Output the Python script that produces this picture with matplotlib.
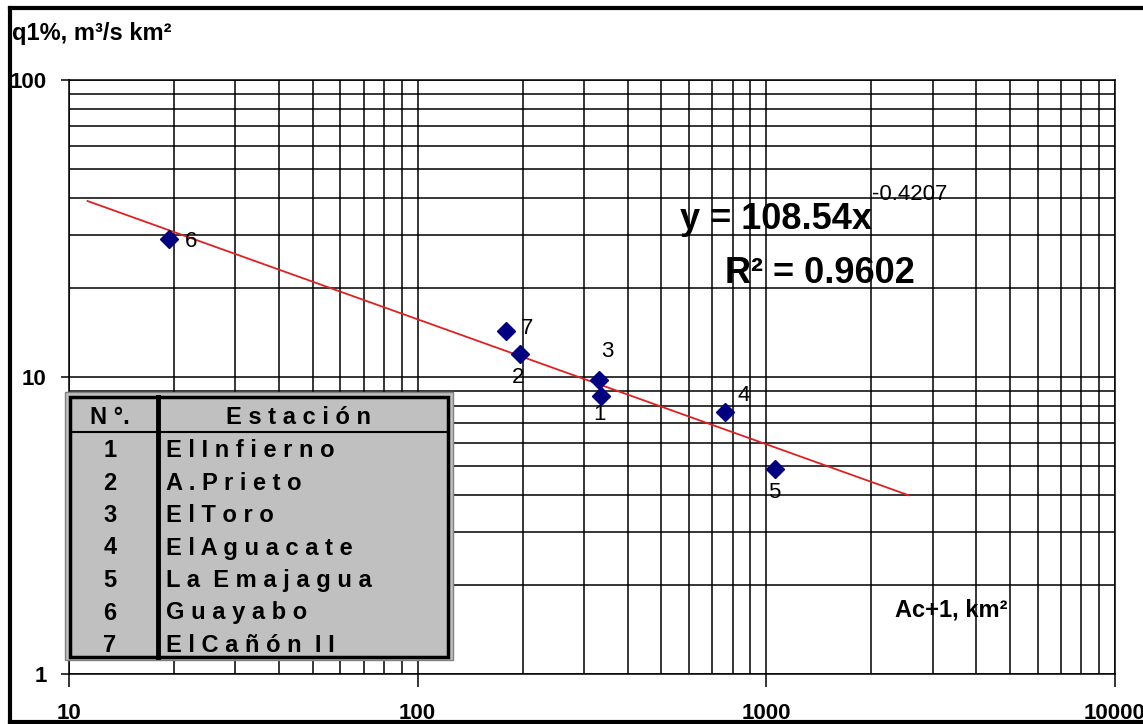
import matplotlib
matplotlib.use("Agg")
import matplotlib.pyplot as plt
from matplotlib.patches import Rectangle
from matplotlib.lines import Line2D
from matplotlib.ticker import LogLocator, FuncFormatter, NullFormatter
from matplotlib.transforms import Affine2D
import numpy as np

# station data: catchment area (Ac+1, km2) and specific discharge q1% (m3/s km2)
station_no = ["1", "2", "3", "4", "5", "6", "7"]
station_names = ["E l I n f i e r n o", "A . P r i e t o", "E l T o r o",
                 "E l A g u a c a t e", "L a  E m a j a g u a", "G u a y a b o",
                 "E l C a ñ ó n  I I"]
area = [336, 196, 331, 762, 1062, 19.3, 179]
q1 = [8.6, 11.95, 9.8, 7.6, 4.9, 29.2, 14.3]

# power trendline y = a * x^b
coef_a = 108.54
coef_b = -0.4207
r2 = 0.9602
trend_x = [11.3, 2560]

W, H = 1143, 724
plt.rcParams['font.family'] = ['Liberation Sans', 'DejaVu Sans']

fig = plt.figure(figsize=(W / 100, H / 100), dpi=100)
fig.patch.set_facecolor('white')
# pixel coordinates measured from the top-left corner of the figure
pix = Affine2D().scale(1.0 / W, -1.0 / H).translate(0, 1) + fig.transFigure

ax = fig.add_axes([69 / W, 1 - 674 / H, (1115 - 69) / W, (674 - 80) / H])
ax.set_xscale('log')
ax.set_yscale('log')
ax.set_xlim(10, 10000)
ax.set_ylim(1, 100)

ax.xaxis.set_minor_locator(LogLocator(base=10, subs=np.arange(2, 10)))
ax.yaxis.set_minor_locator(LogLocator(base=10, subs=np.arange(2, 10)))
ax.xaxis.set_minor_formatter(NullFormatter())
ax.yaxis.set_minor_formatter(NullFormatter())
fmt = FuncFormatter(lambda v, p: "%d" % round(v))
ax.xaxis.set_major_formatter(fmt)
ax.yaxis.set_major_formatter(fmt)

ax.grid(which='both', color='black', linewidth=1.1)
ax.set_axisbelow(True)
for s in ax.spines.values():
    s.set_color('black')
    s.set_linewidth(1.1)

ax.tick_params(which='minor', length=0)
ax.tick_params(axis='x', which='major', direction='out', length=9, width=1.1,
               pad=12, labelsize=16)
ax.tick_params(axis='y', which='major', direction='out', length=6, width=1.1,
               pad=10, labelsize=16)
for lbl in ax.get_xticklabels() + ax.get_yticklabels():
    lbl.set_fontweight('bold')

# trendline
tx = np.array(trend_x)
ax.plot(tx, coef_a * tx ** coef_b, color='#e02020', linewidth=1.3, zorder=3)

# stations
ax.plot(area, q1, linestyle='none', marker='D', markersize=9.5,
        color='#000080', zorder=4)

label_offsets = {"1": (-1, -13), "2": (-1, -17), "3": (6, 20), "4": (13, 12),
                 "5": (-1, -17), "6": (16, -2), "7": (15, 2)}
for n, x, y in zip(station_no, area, q1):
    dx, dy = label_offsets[n]
    ax.annotate(n, (x, y), xytext=(dx, dy), textcoords='offset points',
                ha='center', va='center', fontsize=16, zorder=5)

# equation and R2
fig.text(680, 229, "y = 108.54x", transform=pix, fontsize=26,
         fontweight='bold', ha='left', va='baseline')
fig.text(872, 184, "%.4f" % coef_b, transform=pix, fontsize=16,
         ha='left', va='top')
fig.text(725, 283, "R² = %.4f" % r2, transform=pix, fontsize=26,
         fontweight='bold', ha='left', va='baseline')

# axis titles
fig.text(12, 40, "q1%, m³/s km²", transform=pix, fontsize=17,
         fontweight='bold', ha='left', va='baseline')
fig.text(895, 616, "Ac+1, km²", transform=pix, fontsize=17,
         fontweight='bold', ha='left', va='baseline', zorder=6)

# station table
fig.patches.append(Rectangle((65, 392), 388, 268, transform=pix,
                             facecolor='#c0c0c0', edgecolor='#808080',
                             linewidth=1, zorder=10))
fig.patches.append(Rectangle((70, 397), 378, 260, transform=pix,
                             facecolor='none', edgecolor='black',
                             linewidth=2.5, zorder=11))
fig.lines.append(Line2D([158, 158], [397, 657], transform=pix,
                        color='black', linewidth=3.5, zorder=11))
fig.lines.append(Line2D([70, 448], [432, 432], transform=pix,
                        color='black', linewidth=1.5, zorder=11))
fig.text(110, 418, "N °.", transform=pix, fontsize=17, fontweight='bold',
         ha='center', va='center', zorder=12)
fig.text(298, 418, "E s t a c i ó n", transform=pix, fontsize=17,
         fontweight='bold', ha='center', va='center', zorder=12)
row_h = 32.5
for i, (n, name) in enumerate(zip(station_no, station_names)):
    yy = 418 + (i + 1) * row_h
    fig.text(110, yy, n, transform=pix, fontsize=17, fontweight='bold',
             ha='center', va='center', zorder=12)
    fig.text(166, yy, name, transform=pix, fontsize=17, fontweight='bold',
             ha='left', va='center', zorder=12)

# outer frame (left, top and bottom edges)
for xs, ys in [([10, 10], [8, 722]), ([10, W], [8, 8]), ([10, W], [722, 722])]:
    fig.lines.append(Line2D(xs, ys, transform=pix, color='black',
                            linewidth=3, zorder=20))

fig.savefig("out.png", dpi=100, facecolor='white')
